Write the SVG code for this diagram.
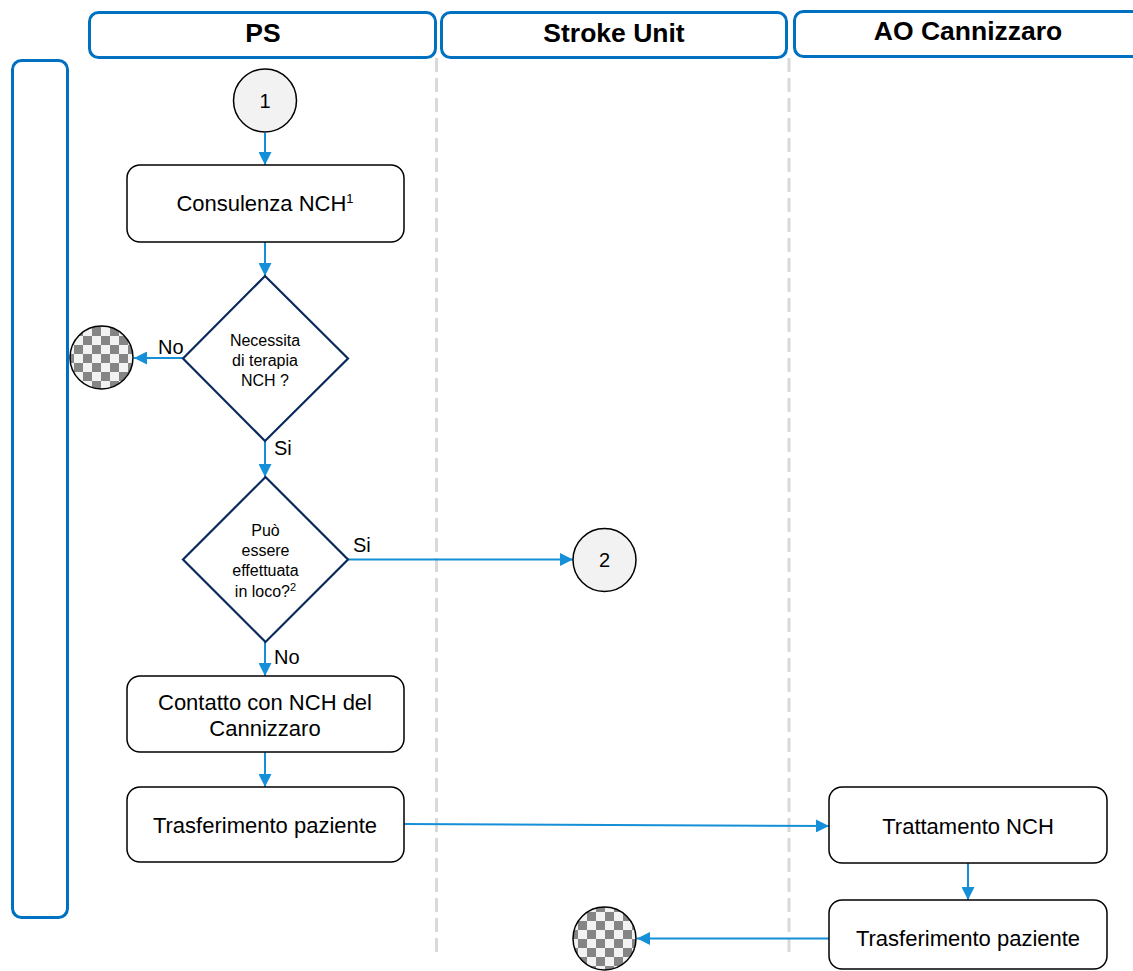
<svg xmlns="http://www.w3.org/2000/svg" width="1133" height="971" viewBox="0 0 1133 971">
<style>
.hdr{fill:#fff;stroke:#0070c0;stroke-width:3}
.hdrt{font-family:"Liberation Sans",Arial,sans-serif;font-weight:bold;font-size:26.5px;fill:#000;text-anchor:middle}
.div{stroke:#d9d9d9;stroke-width:3;stroke-dasharray:14 6;fill:none}
.box{fill:#fff;stroke:#000;stroke-width:1.5}
.bt{font-family:"Liberation Sans",Arial,sans-serif;font-size:22px;fill:#000;text-anchor:middle}
.dia{fill:#fff;stroke:#0b2a5c;stroke-width:2.2}
.dt{font-family:"Liberation Sans",Arial,sans-serif;font-size:16px;fill:#000;text-anchor:middle}
.lbl{font-family:"Liberation Sans",Arial,sans-serif;font-size:20px;fill:#000}
.con{fill:#f2f2f2;stroke:#000;stroke-width:1.5}
.ct{font-family:"Liberation Sans",Arial,sans-serif;font-size:20px;fill:#000;text-anchor:middle}
.end{fill:url(#chk);stroke:#000;stroke-width:1.5}
.ln{stroke:#1590d8;stroke-width:2;fill:none;marker-end:url(#ah)}
</style>
<defs>
<marker id="ah" markerUnits="userSpaceOnUse" markerWidth="13" markerHeight="13" viewBox="0 0 13 13" refX="13" refY="6.5" orient="auto">
<path d="M0,0 L13,6.5 L0,13 Z" fill="#1590d8"/>
</marker>
<pattern id="chk" patternUnits="userSpaceOnUse" width="18" height="18" x="2" y="3">
<rect width="18" height="18" fill="#f2f2f2"/>
<rect width="9" height="9" fill="#858585"/>
<rect x="9" y="9" width="9" height="9" fill="#858585"/>
</pattern>
</defs>

<g id="dividers">
<line class="div" x1="436.5" y1="58" x2="436.5" y2="958"/>
<line class="div" x1="789" y1="58" x2="789" y2="958"/>
</g>

<g id="lane-left"><rect class="hdr" x="12.5" y="60.5" width="55" height="857" rx="9"/></g>
<g id="hdr-ps"><rect class="hdr" x="89.5" y="12.5" width="346" height="45" rx="9"/><text class="hdrt" x="263" y="42">PS</text></g>
<g id="hdr-su"><rect class="hdr" x="441.5" y="12.5" width="345" height="45" rx="9"/><text class="hdrt" x="614" y="42">Stroke Unit</text></g>
<g id="hdr-ao"><rect class="hdr" x="794.5" y="11.5" width="360" height="45" rx="9"/><text class="hdrt" x="968" y="40">AO Cannizzaro</text></g>

<g id="connectors">
<line class="ln" x1="265" y1="133" x2="265" y2="165"/>
<line class="ln" x1="265" y1="242" x2="265" y2="276"/>
<line class="ln" x1="183" y1="358" x2="134" y2="358"/>
<line class="ln" x1="265" y1="441" x2="265" y2="477"/>
<line class="ln" x1="348" y1="559.5" x2="573" y2="559.5"/>
<line class="ln" x1="265" y1="642" x2="265" y2="676"/>
<line class="ln" x1="265" y1="752" x2="265" y2="787"/>
<line class="ln" x1="404" y1="824" x2="829" y2="826"/>
<line class="ln" x1="968" y1="863" x2="968" y2="900"/>
<line class="ln" x1="829" y1="938.5" x2="637" y2="938.5"/>
<text class="lbl" x="158" y="354">No</text>
<text class="lbl" x="274" y="455">Si</text>
<text class="lbl" x="353" y="552">Si</text>
<text class="lbl" x="274" y="664">No</text>
</g>

<g id="start1"><circle class="con" cx="265" cy="100.5" r="31.5"/><text class="ct" x="265" y="108">1</text></g>

<g id="consulenza"><rect class="box" x="127" y="165" width="277" height="77" rx="13"/><text class="bt" x="265" y="211">Consulenza NCH<tspan font-size="13" dy="-8">1</tspan></text></g>

<g id="dec1"><polygon class="dia" points="265,276 348,358.5 265,441 183,358.5"/>
<text class="dt" x="265" y="346">Necessita</text>
<text class="dt" x="265" y="366">di terapia</text>
<text class="dt" x="265" y="386">NCH ?</text></g>

<g id="end1"><circle class="end" cx="101.5" cy="357.5" r="31.5"/></g>

<g id="dec2"><polygon class="dia" points="265.5,477 348,559.5 265.5,642 183,559.5"/>
<text class="dt" x="265.5" y="536">Può</text>
<text class="dt" x="265.5" y="556">essere</text>
<text class="dt" x="265.5" y="576">effettuata</text>
<text class="dt" x="265.5" y="597">in loco?<tspan font-size="11" dy="-6">2</tspan></text></g>

<g id="conn2"><circle class="con" cx="604.5" cy="560" r="31.5"/><text class="ct" x="604.5" y="567">2</text></g>

<g id="contatto"><rect class="box" x="127" y="676" width="277" height="76" rx="13"/>
<text class="bt" x="265" y="710">Contatto con NCH del</text>
<text class="bt" x="265" y="736">Cannizzaro</text></g>

<g id="trasf1"><rect class="box" x="127" y="787" width="277" height="75" rx="13"/><text class="bt" x="265" y="833">Trasferimento paziente</text></g>

<g id="trattamento"><rect class="box" x="829" y="787" width="278" height="76" rx="13"/><text class="bt" x="968" y="834">Trattamento NCH</text></g>

<g id="trasf2"><rect class="box" x="829" y="900" width="278" height="69" rx="13"/><text class="bt" x="968" y="946">Trasferimento paziente</text></g>

<g id="end2"><circle class="end" cx="604.5" cy="938.5" r="31.5"/></g>
</svg>
